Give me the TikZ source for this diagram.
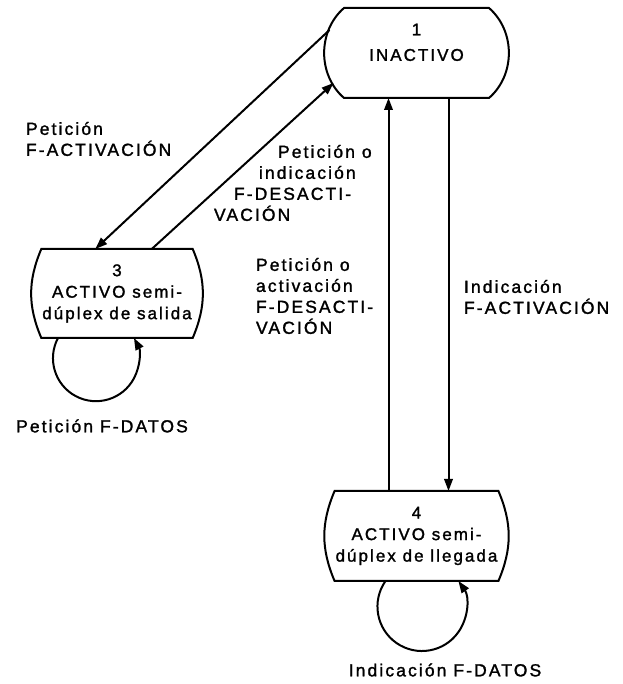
\documentclass[tikz,border=0pt]{standalone}
\usepackage{fontspec}
\setmainfont{Liberation Sans}
\newfontfamily\fuenteestado[LetterSpace=12,FakeBold=1.5]{Liberation Sans}
\newfontfamily\fuenteetiqueta[LetterSpace=12,FakeBold=1.5]{Liberation Sans}
\usepackage{tikz}
\usetikzlibrary{arrows.meta,positioning,calc}

\begin{document}
\begin{tikzpicture}[x=1pt,y=1pt,line width=2pt,>={Triangle[length=12pt,width=8.5pt]},
      estado/.style={rectangle,minimum width=148pt,minimum height=87pt,inner xsep=0pt,align=center,
        font=\fuenteestado\fontsize{17}{21.5}\selectfont},
      etiqueta/.style={align=left,anchor=west,inner sep=0pt,
        font=\fuenteetiqueta\fontsize{17.5}{21}\selectfont}]
      \useasboundingbox (0,0) rectangle (622,684);
      \node[estado,minimum width=143pt,minimum height=88pt] (ina) at (416.5,631) {1\\[4pt]INACTIVO\\ \mbox{}};
      \node[estado,on grid,below left=240.5pt and 299.5pt of ina] (sal) {3\\ACTIVO semi-\\dúplex de salida};
      \node[estado,on grid,minimum width=150pt,minimum height=88pt,below=483pt of ina] (lle) {4\\ACTIVO semi-\\dúplex de llegada};
      \foreach \n/\b in {ina/49,sal/23,lle/23}
        \draw (\n.north west) -- (\n.north east) to[bend left=\b] (\n.south east)
          -- (\n.south west) to[bend left=\b] (\n.north west) -- cycle;
      \draw[->] ($(ina)+(-87,23)$) -- (sal.116);
      \draw[->] (sal.52) -- ($(ina)+(-83,-30)$);
      \draw[->] ([xshift=-28pt]lle.north) -- ([xshift=-28pt]lle.north |- ina.south);
      \draw[->] ([xshift=32pt]ina.south) -- ([xshift=32pt]ina.south |- lle.north);
      \draw[->] ([xshift=-59pt]sal.south) arc[start angle=152,end angle=388,radius=43pt];
      \draw[->] ([xshift=-31pt]lle.south) arc[start angle=145,end angle=395,radius=44.5pt];
      \node[etiqueta] (pact) at (25,545) {Petición\\F-ACTIVACIÓN};
      \node[etiqueta] (pdes) at (213,501) {\hspace*{64pt}Petición o\\\hspace*{45pt}indicación\\\hspace*{20pt}F-DESACTI-\\VACIÓN};
      \node[etiqueta] (pdes2) at (255,388) {Petición o\\activación\\F-DESACTI-\\VACIÓN};
      \node[etiqueta] (iact) at (463,387) {Indicación\\F-ACTIVACIÓN};
      \node[etiqueta,anchor=center] (pdat) at (102,258) {Petición F-DATOS};
      \node[etiqueta,anchor=center] (idat) at (445,14) {Indicación F-DATOS};
    \end{tikzpicture}
\end{document}
